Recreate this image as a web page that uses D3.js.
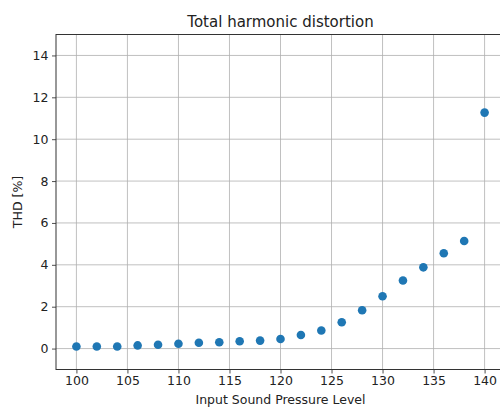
<!DOCTYPE html>
<html>
<head>
<meta charset="utf-8">
<script src="https://cdn.jsdelivr.net/npm/d3@7"></script>
<style>
  body { margin: 0; background: #fff; }
  svg { display: block; font-family: "DejaVu Sans", sans-serif; }
</style>
</head>
<body>
<div class="chart"></div>
<script>
// data
var spl = [100, 102, 104, 106, 108, 110, 112, 114, 116, 118, 120,
           122, 124, 126, 128, 130, 132, 134, 136, 138, 140];
var thd = [0.10, 0.10, 0.10, 0.15, 0.18, 0.23, 0.28, 0.30, 0.35, 0.38, 0.46,
           0.65, 0.86, 1.26, 1.83, 2.50, 3.25, 3.88, 4.55, 5.14, 11.27];
var xTicks = [100, 105, 110, 115, 120, 125, 130, 135, 140];
var yTicks = [0, 2, 4, 6, 8, 10, 12, 14];

var svgWidth = 500;
var svgHeight = 407;

// axes box runs past the right edge of the picture, as in the reference
var margin = { top: 34.5, left: 56, right: -5, bottom: 37.5 };
var width = svgWidth - margin.left - margin.right;
var height = svgHeight - margin.top - margin.bottom;

var svg = d3.select(".chart")
  .append("svg")
  .attr("width", svgWidth)
  .attr("height", svgHeight);

var chartGroup = svg.append("g")
  .attr("transform", `translate(${margin.left}, ${margin.top})`);

var xScale = d3.scaleLinear()
  .domain([98, 142])
  .range([0, width]);

var yScale = d3.scaleLinear()
  .domain([-1, 15])
  .range([height, 0]);

// grid
chartGroup.append("g")
  .selectAll("line.vx")
  .data(xTicks)
  .enter()
  .append("line")
  .attr("x1", d => xScale(d))
  .attr("x2", d => xScale(d))
  .attr("y1", 0)
  .attr("y2", height)
  .attr("stroke", "#b0b0b0")
  .attr("stroke-width", 0.8);

chartGroup.append("g")
  .selectAll("line.hy")
  .data(yTicks)
  .enter()
  .append("line")
  .attr("x1", 0)
  .attr("x2", width)
  .attr("y1", d => yScale(d))
  .attr("y2", d => yScale(d))
  .attr("stroke", "#b0b0b0")
  .attr("stroke-width", 0.8);

// axes
var bottomAxis = d3.axisBottom(xScale)
  .tickValues(xTicks)
  .tickSize(4)
  .tickPadding(3)
  .tickSizeOuter(0);
var leftAxis = d3.axisLeft(yScale)
  .tickValues(yTicks)
  .tickSize(4)
  .tickPadding(3.5)
  .tickSizeOuter(0);

var xAxisG = chartGroup.append("g")
  .attr("transform", `translate(0, ${height})`)
  .call(bottomAxis);
var yAxisG = chartGroup.append("g")
  .call(leftAxis);

[xAxisG, yAxisG].forEach(function(g) {
  g.select(".domain").remove();
  g.selectAll(".tick line").attr("stroke", "#222").attr("stroke-width", 0.8);
  g.selectAll(".tick text")
    .attr("fill", "#222")
    .style("font-size", "12.5px")
    .style("font-family", "DejaVu Sans, sans-serif");
});

// spines
chartGroup.append("rect")
  .attr("x", 0)
  .attr("y", 0)
  .attr("width", width)
  .attr("height", height)
  .attr("fill", "none")
  .attr("stroke", "#333")
  .attr("stroke-width", 1);

// points
chartGroup.selectAll("circle")
  .data(spl)
  .enter()
  .append("circle")
  .attr("cx", d => xScale(d))
  .attr("cy", (d, i) => yScale(thd[i]))
  .attr("r", 4.3)
  .attr("fill", "#1f77b4");

// labels
svg.append("text")
  .attr("x", margin.left + width / 2)
  .attr("y", 26.5)
  .attr("text-anchor", "middle")
  .style("font-size", "15px")
  .attr("fill", "#222")
  .text("Total harmonic distortion");

svg.append("text")
  .attr("x", margin.left + width / 2)
  .attr("y", 404)
  .attr("text-anchor", "middle")
  .style("font-size", "12.5px")
  .attr("fill", "#222")
  .text("Input Sound Pressure Level");

svg.append("text")
  .attr("transform", `translate(22, ${margin.top + yScale(7)}) rotate(-90)`)
  .attr("text-anchor", "middle")
  .style("font-size", "12.5px")
  .attr("fill", "#222")
  .text("THD [%]");
</script>
</body>
</html>
